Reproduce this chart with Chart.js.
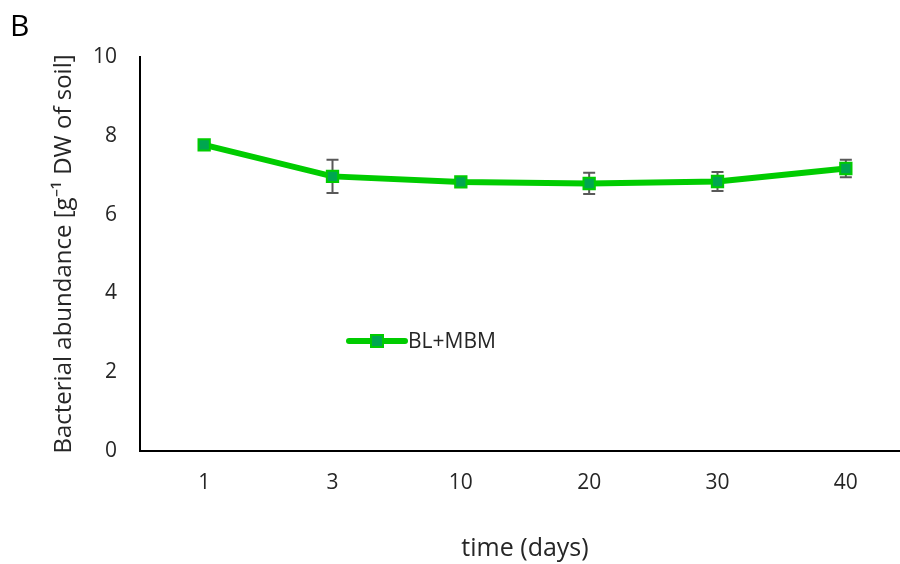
<!DOCTYPE html>
<html>
<head>
<meta charset="utf-8">
<script src="https://cdn.jsdelivr.net/npm/chart.js@4/dist/chart.umd.min.js"></script>
<style>
  html, body { margin: 0; padding: 0; background: #fff; overflow: hidden; }
  #wrap { position: relative; width: 920px; height: 564px; }
  #panel { position: absolute; left: 10px; top: 4px; font: 30px "Open Sans", sans-serif; color: #000; }
</style>
</head>
<body>
<div id="wrap">
  <canvas id="abundChart" width="920" height="564"></canvas>
  <div id="panel">B</div>
</div>
<script>
const days = ['1', '3', '10', '20', '30', '40'];
const abundance = [7.77, 6.97, 6.83, 6.79, 6.84, 7.17];
const abundanceErr = [0.05, 0.42, 0.08, 0.27, 0.24, 0.22];
const seriesLabel = 'BL+MBM';

const FONT = '"Open Sans", sans-serif';

// vertical error bars drawn behind the markers
const errorBars = {
    id: 'errorBars',
    beforeDatasetsDraw(chart) {
        const { ctx, scales: { x, y } } = chart;
        ctx.save();
        ctx.strokeStyle = '#595959';
        ctx.lineWidth = 2;
        abundance.forEach((v, i) => {
            const px = x.getPixelForValue(i);
            const top = y.getPixelForValue(v + abundanceErr[i]);
            const bot = y.getPixelForValue(v - abundanceErr[i]);
            ctx.beginPath();
            ctx.moveTo(px, top); ctx.lineTo(px, bot);
            ctx.moveTo(px - 6, top); ctx.lineTo(px + 6, top);
            ctx.moveTo(px - 6, bot); ctx.lineTo(px + 6, bot);
            ctx.stroke();
        });
        ctx.restore();
    }
};

// legend sits inside the plot area
const innerLegend = {
    id: 'innerLegend',
    afterDraw(chart) {
        const { ctx } = chart;
        const x0 = 349, y0 = 341;
        ctx.save();
        ctx.strokeStyle = '#00cc00';
        ctx.lineWidth = 6;
        ctx.lineCap = 'round';
        ctx.beginPath();
        ctx.moveTo(x0, y0); ctx.lineTo(x0 + 56, y0);
        ctx.stroke();
        ctx.fillStyle = '#00a650';
        ctx.strokeStyle = '#00cc00';
        ctx.lineWidth = 2;
        ctx.fillRect(x0 + 22, y0 - 6, 12, 12);
        ctx.strokeRect(x0 + 22, y0 - 6, 12, 12);
        ctx.fillStyle = '#262626';
        ctx.font = '21px ' + FONT;
        ctx.textBaseline = 'middle';
        ctx.fillText(seriesLabel, x0 + 59, y0 + 1);
        ctx.restore();
    }
};

new Chart(document.getElementById('abundChart'), {
    type: 'line',
    data: {
        labels: days,
        datasets: [{
            label: seriesLabel,
            data: abundance,
            borderColor: '#00cc00',
            borderWidth: 6,
            pointStyle: 'rect',
            pointRadius: 8,
            pointBackgroundColor: '#00a650',
            pointBorderColor: '#00cc00',
            pointBorderWidth: 2,
            tension: 0
        }]
    },
    options: {
        responsive: false,
        animation: false,
        layout: { padding: { left: 50, right: 9, top: 57, bottom: 0 } },
        plugins: { legend: { display: false }, tooltip: { enabled: false } },
        scales: {
            x: {
                offset: true,
                grid: { display: false, drawTicks: false },
                border: { display: true, color: '#000', width: 2 },
                ticks: { color: '#262626', font: { family: FONT, size: 21 }, padding: 19 },
                title: { display: true, text: 'time (days)', color: '#262626', font: { family: FONT, size: 25 }, padding: { top: 4, bottom: 0 } },
                afterFit: s => { s.height = 113; }
            },
            y: {
                min: 0, max: 10,
                grid: { display: false, drawTicks: false },
                border: { display: true, color: '#000', width: 2 },
                ticks: { stepSize: 2, color: '#262626', font: { family: FONT, size: 21 }, padding: 23 },
                title: { display: true, text: 'Bacterial abundance [g\u207B\u00B9 DW of soil]', color: '#262626', font: { family: FONT, size: 24 }, padding: { top: 0, bottom: 0 } },
                afterFit: s => { s.width = 90; }
            }
        }
    },
    plugins: [errorBars, innerLegend]
});
</script>
</body>
</html>
